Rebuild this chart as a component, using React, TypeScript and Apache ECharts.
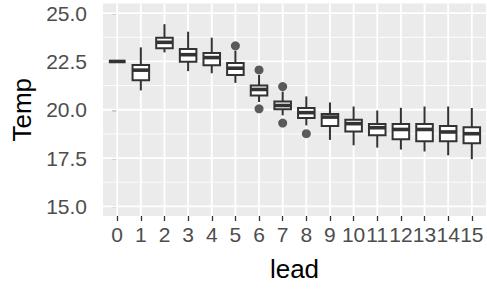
import React, { useEffect, useRef } from "react";
import * as echarts from "echarts";

const leads = [0, 1, 2, 3, 4, 5, 6, 7, 8, 9, 10, 11, 12, 13, 14, 15];
const whiskerLow = [22.5, 21.0, 22.97, 22.0, 21.89, 21.39, 20.4, 19.71, 19.19, 18.44, 18.16, 18.04, 17.94, 17.84, 17.64, 17.44];
const q1 = [22.5, 21.53, 23.18, 22.49, 22.3, 21.8, 20.74, 20.02, 19.57, 19.16, 18.87, 18.68, 18.47, 18.37, 18.37, 18.26];
const median = [22.5, 22.05, 23.49, 22.85, 22.7, 22.15, 21.05, 20.22, 19.85, 19.62, 19.28, 19.07, 18.98, 18.98, 18.85, 18.76];
const q3 = [22.5, 22.32, 23.73, 23.14, 22.94, 22.42, 21.25, 20.43, 20.09, 19.78, 19.48, 19.26, 19.26, 19.26, 19.16, 19.09];
const whiskerHigh = [22.5, 23.23, 24.43, 24.04, 23.73, 23.06, 21.8, 20.94, 20.69, 20.38, 20.17, 19.96, 20.1, 20.17, 20.17, 20.09];
const outliers: [number, number][] = [
  [5, 23.31],
  [6, 22.06],
  [6, 20.05],
  [7, 21.2],
  [7, 19.31],
  [8, 18.76],
];
const yMajor = [15, 17.5, 20, 22.5, 25];
const yMinor = [16.25, 18.75, 21.25, 23.75];

const FONT = "'Liberation Sans', Arial, sans-serif";

export default function App() {
  const ref = useRef<HTMLDivElement>(null);
  useEffect(() => {
    if (!ref.current) return;
    const chart = echarts.init(ref.current, null, { renderer: "svg" });
    const boxData = leads.map((l, i) => [l, whiskerLow[i], q1[i], median[i], q3[i], whiskerHigh[i]]);
    // gridline data: [kind, value, width]; kind 0 = vertical (x), 1 = horizontal (y)
    const gridData: number[][] = [
      ...yMinor.map((v) => [1, v, 0.9]),
      ...yMajor.map((v) => [1, v, 1.8]),
      ...leads.map((v) => [0, v, 1.8]),
    ];
    chart.setOption({
      animation: false,
      backgroundColor: "#ffffff",
      grid: {
        left: 103,
        right: 1,
        top: 3.5,
        bottom: 74,
        show: true,
        backgroundColor: "#EBEBEB",
        borderWidth: 0,
      },
      xAxis: {
        type: "value",
        min: -0.6,
        max: 15.6,
        name: "lead",
        nameLocation: "middle",
        nameGap: 40,
        nameTextStyle: { fontSize: 26, color: "#000000", fontFamily: FONT },
        axisLine: { show: false },
        axisTick: {
          show: true,
          length: 5,
          customValues: leads,
          lineStyle: { color: "#333333", width: 1.3 },
        },
        axisLabel: {
          customValues: leads,
          fontSize: 21,
          color: "#4D4D4D",
          fontFamily: FONT,
          margin: 8,
        },
        splitLine: { show: false },
      },
      yAxis: {
        type: "value",
        min: 14.5,
        max: 25.5,
        name: "Temp",
        nameLocation: "middle",
        nameGap: 66,
        nameTextStyle: { fontSize: 26, color: "#000000", fontFamily: FONT },
        axisLine: { show: false },
        axisTick: {
          show: true,
          length: 5,
          customValues: yMajor,
          lineStyle: { color: "#333333", width: 1.3 },
        },
        axisLabel: {
          customValues: yMajor,
          fontSize: 21,
          color: "#4D4D4D",
          fontFamily: FONT,
          margin: 16,
          formatter: (v: number) => v.toFixed(1),
        },
        splitLine: { show: false },
      },
      series: [
        {
          type: "custom",
          data: gridData,
          silent: true,
          z: 1,
          encode: { x: -1, y: -1 },
          clip: true,
          renderItem: (params: any, api: any) => {
            const cs = params.coordSys;
            const kind = api.value(0);
            const v = api.value(1);
            const w = api.value(2);
            if (kind === 0) {
              const px = api.coord([v, 20])[0];
              return {
                type: "line",
                shape: { x1: px, y1: cs.y, x2: px, y2: cs.y + cs.height },
                style: { stroke: "#ffffff", lineWidth: w },
              };
            }
            const py = api.coord([0, v])[1];
            return {
              type: "line",
              shape: { x1: cs.x, y1: py, x2: cs.x + cs.width, y2: py },
              style: { stroke: "#ffffff", lineWidth: w },
            };
          },
        },
        {
          type: "custom",
          data: boxData,
          z: 2,
          encode: { x: 0, y: [1, 2, 3, 4, 5] },
          renderItem: (params: any, api: any) => {
            const x = api.value(0);
            const pLo = api.coord([x, api.value(1)]);
            const pQ1 = api.coord([x, api.value(2)]);
            const pMed = api.coord([x, api.value(3)]);
            const pQ3 = api.coord([x, api.value(4)]);
            const pHi = api.coord([x, api.value(5)]);
            const half = api.size([0.7, 0])[0] / 2;
            const cx = pMed[0];
            const stroke = "#333333";
            return {
              type: "group",
              children: [
                {
                  type: "line",
                  shape: { x1: cx, y1: pQ3[1], x2: cx, y2: pHi[1] },
                  style: { stroke, lineWidth: 2 },
                },
                {
                  type: "line",
                  shape: { x1: cx, y1: pQ1[1], x2: cx, y2: pLo[1] },
                  style: { stroke, lineWidth: 2 },
                },
                {
                  type: "rect",
                  shape: { x: cx - half, y: pQ3[1], width: half * 2, height: pQ1[1] - pQ3[1] },
                  style: { fill: "#ffffff", stroke, lineWidth: 2 },
                },
                {
                  type: "line",
                  shape: { x1: cx - half, y1: pMed[1], x2: cx + half, y2: pMed[1] },
                  style: { stroke, lineWidth: 3.6 },
                },
              ],
            };
          },
        },
        {
          type: "scatter",
          data: outliers,
          symbol: "circle",
          symbolSize: 9,
          itemStyle: { color: "#333333" },
          z: 3,
        },
      ],
    });
    return () => chart.dispose();
  }, []);
  return (
    <div
      ref={ref}
      style={{ position: "absolute", left: 0, top: 0, width: 487, height: 290 }}
    />
  );
}
